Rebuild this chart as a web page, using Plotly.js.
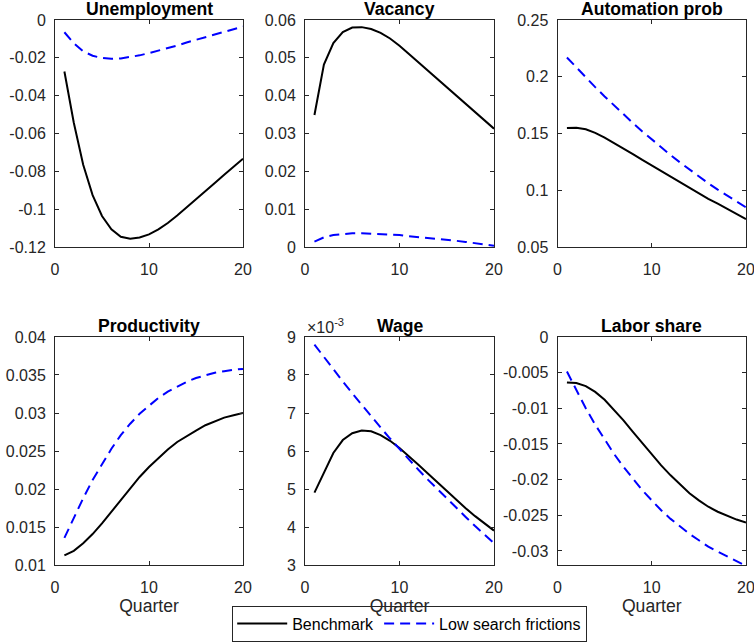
<!DOCTYPE html>
<html>
<head>
<meta charset="utf-8">
<script src="https://cdn.plot.ly/plotly-3.0.1.min.js"></script>
<style>
html,body{margin:0;padding:0;background:#ffffff;}
#chart{width:754px;height:642px;}
</style>
</head>
<body>
<div id="chart"></div>
<script>
// ---------------- data ----------------
const quarters = [1,2,3,4,5,6,7,8,9,10,11,12,13,14,15,16,17,18,19,20];
const seriesNames = ['Benchmark', 'Low search frictions'];
const panelTitles = ['Unemployment', 'Vacancy', 'Automation prob', 'Productivity', 'Wage', 'Labor share'];

const unempBench = [-0.0272,-0.0543,-0.0765,-0.0925,-0.1035,-0.1105,-0.1145,-0.1155,-0.1149,-0.1132,-0.1106,-0.1072,-0.1033,-0.0991,-0.0948,-0.0904,-0.0861,-0.0817,-0.0774,-0.0733];
const unempLow   = [-0.0065,-0.0123,-0.0166,-0.0189,-0.0201,-0.0205,-0.0203,-0.0196,-0.0187,-0.0175,-0.0163,-0.0149,-0.0135,-0.0119,-0.0105,-0.0091,-0.0077,-0.0063,-0.0049,-0.0035];

const vacBench = [0.0349,0.0482,0.0539,0.0568,0.0580,0.0581,0.0576,0.0566,0.0551,0.0532,0.0510,0.0488,0.0466,0.0444,0.0422,0.0400,0.0378,0.0356,0.0334,0.0313];
const vacLow   = [0.0015,0.0026,0.0032,0.0035,0.0037,0.0037,0.0036,0.0035,0.0033,0.0032,0.0029,0.0027,0.0025,0.0022,0.0019,0.0017,0.0014,0.0011,0.0007,0.0004];

const autoBench = [0.1549,0.1552,0.1538,0.1506,0.1465,0.1419,0.1372,0.1320,0.1268,0.1219,0.1167,0.1117,0.1068,0.1019,0.0972,0.0926,0.0883,0.0839,0.0794,0.0748];
const autoLow   = [0.2170,0.2081,0.1994,0.1909,0.1827,0.1747,0.1669,0.1593,0.1519,0.1447,0.1378,0.1311,0.1246,0.1183,0.1122,0.1063,0.1007,0.0953,0.0901,0.0851];

const prodBench = [0.0113,0.0119,0.0129,0.0141,0.0155,0.0170,0.0186,0.0201,0.0216,0.0229,0.0241,0.0252,0.0262,0.0270,0.0277,0.0284,0.0289,0.0294,0.0297,0.0300];
const prodLow   = [0.0136,0.0163,0.0188,0.0212,0.0233,0.0253,0.0271,0.0286,0.0299,0.0310,0.0320,0.0328,0.0335,0.0341,0.0346,0.0350,0.0353,0.0355,0.0357,0.0358];

// wage in units of 10^-3
const wageBench = [4.91,5.45,5.95,6.29,6.47,6.54,6.52,6.42,6.27,6.08,5.87,5.64,5.41,5.18,4.95,4.72,4.50,4.29,4.09,3.91];
const wageLow   = [8.80,8.47,8.15,7.83,7.52,7.21,6.91,6.62,6.33,6.05,5.78,5.51,5.25,5.00,4.75,4.51,4.27,4.03,3.80,3.58];

const laborBench = [-0.00638,-0.00645,-0.0069,-0.0077,-0.0088,-0.0102,-0.0117,-0.0133,-0.0149,-0.0165,-0.0180,-0.0194,-0.0207,-0.0219,-0.0229,-0.0238,-0.0245,-0.0251,-0.0256,-0.0260];
const laborLow   = [-0.00485,-0.0075,-0.0100,-0.0123,-0.0144,-0.0164,-0.0182,-0.0199,-0.0215,-0.0229,-0.0243,-0.0255,-0.0266,-0.0276,-0.0285,-0.0294,-0.0301,-0.0308,-0.0315,-0.0321];

const xTickVals = [0,10,20];
const xTickText = ['0','10','20'];

const unempTickVals = [-0.12,-0.1,-0.08,-0.06,-0.04,-0.02,0];
const unempTickText = ['-0.12','-0.1','-0.08','-0.06','-0.04','-0.02','0'];
const vacTickVals = [0,0.01,0.02,0.03,0.04,0.05,0.06];
const vacTickText = ['0','0.01','0.02','0.03','0.04','0.05','0.06'];
const autoTickVals = [0.05,0.1,0.15,0.2,0.25];
const autoTickText = ['0.05','0.1','0.15','0.2','0.25'];
const prodTickVals = [0.01,0.015,0.02,0.025,0.03,0.035,0.04];
const prodTickText = ['0.01','0.015','0.02','0.025','0.03','0.035','0.04'];
const wageTickVals = [3,4,5,6,7,8,9];
const wageTickText = ['3','4','5','6','7','8','9'];
const laborTickVals = [-0.03,-0.025,-0.02,-0.015,-0.01,-0.005,0];
const laborTickText = ['-0.03','-0.025','-0.02','-0.015','-0.01','-0.005','0'];

const unempRange = [-0.12, 0];
const vacRange = [0, 0.06];
const autoRange = [0.05, 0.25];
const prodRange = [0.01, 0.04];
const wageRange = [3, 9];
const laborRange = [-0.032, 0];

// ---------------- layout helpers ----------------
const W = 754, H = 642;
const colPx = [[55, 243], [305, 494], [557.5, 746]];
const rowPx = [[20, 248], [338, 567]];

const panels = [
  {bench: unempBench, low: unempLow, tv: unempTickVals, tt: unempTickText, range: unempRange},
  {bench: vacBench, low: vacLow, tv: vacTickVals, tt: vacTickText, range: vacRange},
  {bench: autoBench, low: autoLow, tv: autoTickVals, tt: autoTickText, range: autoRange},
  {bench: prodBench, low: prodLow, tv: prodTickVals, tt: prodTickText, range: prodRange},
  {bench: wageBench, low: wageLow, tv: wageTickVals, tt: wageTickText, range: wageRange},
  {bench: laborBench, low: laborLow, tv: laborTickVals, tt: laborTickText, range: laborRange}
];

const FONT = '"Liberation Sans", Arial, Helvetica, sans-serif';
const AXC = '#262626';

const data = [];
const layout = {
  width: W, height: H,
  margin: {l: 0, r: 0, t: 0, b: 0, pad: 0},
  paper_bgcolor: '#ffffff',
  plot_bgcolor: '#ffffff',
  font: {family: FONT, size: 16, color: AXC},
  showlegend: true,
  legend: {
    orientation: 'h',
    x: 409.7 / W, xanchor: 'center',
    y: 1 - 625.5 / H, yanchor: 'middle',
    bgcolor: '#ffffff',
    bordercolor: AXC, borderwidth: 1,
    font: {family: FONT, size: 16, color: '#000000'},
    itemwidth: 50,
    tracegroupgap: 0
  },
  annotations: [],
  shapes: []
};

panels.forEach((p, i) => {
  const r = Math.floor(i / 3), c = i % 3;
  const sfx = i === 0 ? '' : String(i + 1);
  const xd = [colPx[c][0] / W, colPx[c][1] / W];
  const yd = [1 - rowPx[r][1] / H, 1 - rowPx[r][0] / H];

  data.push({
    x: quarters, y: p.bench, type: 'scatter', mode: 'lines',
    name: seriesNames[0], legendgroup: 'b', showlegend: i === 0,
    line: {color: '#000000', width: 2},
    xaxis: 'x' + sfx, yaxis: 'y' + sfx, hoverinfo: 'skip'
  });
  data.push({
    x: quarters, y: p.low, type: 'scatter', mode: 'lines',
    name: seriesNames[1], legendgroup: 'l', showlegend: i === 0,
    line: {color: '#0000ff', width: 2, dash: '10px,6px'},
    xaxis: 'x' + sfx, yaxis: 'y' + sfx, hoverinfo: 'skip'
  });

  const xa = {
    domain: xd, anchor: 'y' + sfx, range: [0, 20],
    tickmode: 'array', tickvals: xTickVals, ticktext: xTickText,
    ticks: 'inside', ticklen: 4, tickwidth: 1, tickcolor: AXC,
    showline: true, linecolor: AXC, linewidth: 1, mirror: 'ticks',
    showgrid: false, zeroline: false,
    tickfont: {family: FONT, size: 16, color: AXC},
    ticklabelstandoff: 8,
    ticklabeloverflow: 'allow',
    fixedrange: true
  };
  if (r === 1) {
    xa.title = {text: 'Quarter', font: {family: FONT, size: 17.6, color: AXC}, standoff: 2};
  }
  const ya = {
    domain: yd, anchor: 'x' + sfx, range: p.range,
    tickmode: 'array', tickvals: p.tv, ticktext: p.tt,
    ticks: 'inside', ticklen: 4, tickwidth: 1, tickcolor: AXC,
    showline: true, linecolor: AXC, linewidth: 1, mirror: 'ticks',
    showgrid: false, zeroline: false,
    tickfont: {family: FONT, size: 16, color: AXC},
    ticklabelstandoff: 5,
    ticklabeloverflow: 'allow',
    fixedrange: true
  };
  layout['xaxis' + sfx] = xa;
  layout['yaxis' + sfx] = ya;

  layout.annotations.push({
    text: '<b>' + panelTitles[i] + '</b>',
    x: (xd[0] + xd[1]) / 2, xref: 'paper', xanchor: 'center',
    y: yd[1], yref: 'paper', yanchor: 'bottom', yshift: -1,
    showarrow: false,
    font: {family: FONT, size: 17.6, color: '#000000'}
  });
});

// exponent label of wage panel
layout.annotations.push({
  text: '×10<sup>-3</sup>',
  x: colPx[1][0] / W, xref: 'paper', xanchor: 'left',
  y: 1 - rowPx[1][0] / H, yref: 'paper', yanchor: 'bottom', yshift: -1,
  showarrow: false,
  font: {family: FONT, size: 16, color: AXC}
});

Plotly.newPlot('chart', data, layout, {staticPlot: true, displayModeBar: false});
</script>
</body>
</html>
